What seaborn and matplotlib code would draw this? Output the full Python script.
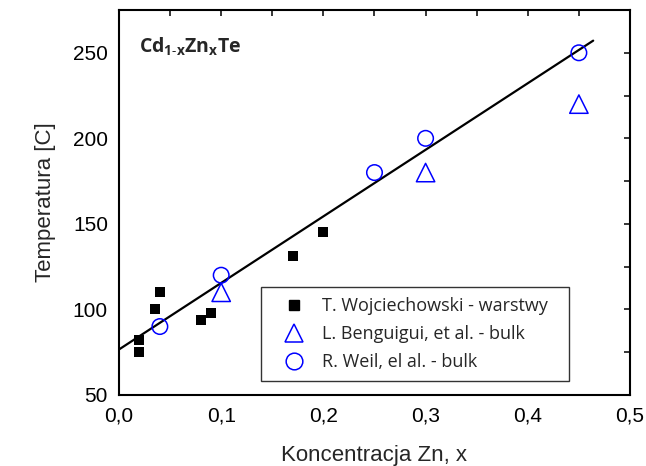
import matplotlib
matplotlib.use("Agg")
import matplotlib.pyplot as plt
from matplotlib.ticker import MultipleLocator, FuncFormatter, NullFormatter
from matplotlib.lines import Line2D
import seaborn as sns
import pandas as pd
import numpy as np

# Measurement series
wojc_x = [0.02, 0.02, 0.035, 0.04, 0.08, 0.09, 0.17, 0.20]
wojc_t = [82, 75, 100, 110, 94, 98, 131, 145]

beng_x = [0.10, 0.30, 0.45]
beng_t = [110, 180, 220]

weil_x = [0.04, 0.10, 0.25, 0.30, 0.45]
weil_t = [90, 120, 180, 200, 250]

# Linear fit T = a + b*x
fit_a = 76.6
fit_b = 389.0
fit_x = [0.0, 0.464]

labels = ["T. Wojciechowski - warstwy",
          "L. Benguigui, et al. - bulk",
          "R. Weil, el al. - bulk"]

sns.set_style("white")
plt.rcParams["font.family"] = ["Liberation Sans", "DejaVu Sans"]
plt.rcParams["mathtext.fontset"] = "custom"
plt.rcParams["mathtext.bf"] = "Open Sans:bold"
plt.rcParams["mathtext.rm"] = "Open Sans"

fig = plt.figure(figsize=(6.46, 4.66), dpi=100)
ax = fig.add_axes([0.1842, 0.1524, 0.7910, 0.8261])

blue = "#0000ff"
fit_df = pd.DataFrame({"x": fit_x, "t": [fit_a + fit_b * v for v in fit_x]})
sns.lineplot(data=fit_df, x="x", y="t", color="black", linewidth=1.6, ax=ax, legend=False)

sns.scatterplot(x=wojc_x, y=wojc_t, marker="s", s=48, color="black",
                edgecolor="black", linewidth=0, ax=ax, zorder=3)
sns.scatterplot(x=beng_x, y=beng_t, marker="^", s=175, facecolors="none",
                edgecolor=blue, linewidth=1.1, ax=ax, zorder=3)
sns.scatterplot(x=weil_x, y=weil_t, marker="o", s=125, facecolors="none",
                edgecolor=blue, linewidth=1.1, ax=ax, zorder=3)

ax.set_xlim(0, 0.5)
ax.set_ylim(50, 275)
ax.xaxis.set_major_locator(MultipleLocator(0.1))
ax.xaxis.set_minor_locator(MultipleLocator(0.05))
ax.yaxis.set_major_locator(MultipleLocator(50))
ax.yaxis.set_minor_locator(MultipleLocator(25))
ax.xaxis.set_major_formatter(FuncFormatter(lambda v, p: f"{v:.1f}".replace(".", ",")))
ax.yaxis.set_major_formatter(FuncFormatter(lambda v, p: f"{v:.0f}"))

ax.tick_params(which="both", direction="in", top=False, right=False,
               width=1.3, colors="black")
ax.tick_params(which="major", length=7, labelsize=15, pad=8)
ax.tick_params(which="minor", length=4)

# Short ticks on the top and right edges
top = ax.secondary_xaxis("top")
top.set_xticks(np.arange(0, 0.5001, 0.05))
top.xaxis.set_major_formatter(NullFormatter())
top.tick_params(direction="in", length=4.5, width=1.3)
right = ax.secondary_yaxis("right")
right.set_yticks(np.arange(50, 275.1, 25))
right.yaxis.set_major_formatter(NullFormatter())
right.tick_params(direction="in", length=4.5, width=1.3)
for a in (top, right):
    for sp in a.spines.values():
        sp.set_visible(False)

for sp in ax.spines.values():
    sp.set_linewidth(1.5)
    sp.set_color("black")

ax.set_xlabel("Koncentracja Zn, x", fontsize=16, labelpad=14)
ax.set_ylabel("Temperatura [C]", fontsize=16, labelpad=12)

ax.text(0.04, 0.89, r"$\mathbf{Cd_{1\text{-}x}Zn_{x}Te}$", transform=ax.transAxes,
        fontsize=14, ha="left", va="baseline")

handles = [
    Line2D([], [], marker="s", linestyle="none", color="black", markersize=7),
    Line2D([], [], marker="^", linestyle="none", markerfacecolor="none",
           markeredgecolor=blue, markersize=13, markeredgewidth=1.1),
    Line2D([], [], marker="o", linestyle="none", markerfacecolor="none",
           markeredgecolor=blue, markersize=12, markeredgewidth=1.1),
]
leg = ax.legend(handles, labels, loc="lower left",
                bbox_to_anchor=(0.278, 0.036, 0.603, 0.0), mode="expand",
                frameon=True, fancybox=False, edgecolor="black",
                prop={"family": ["Open Sans", "DejaVu Sans"], "size": 13},
                handletextpad=0.25, borderpad=0.55, labelspacing=0.55,
                handlelength=2.6, borderaxespad=0)
leg.get_frame().set_linewidth(1.0)

fig.savefig("out.png", dpi=100)
